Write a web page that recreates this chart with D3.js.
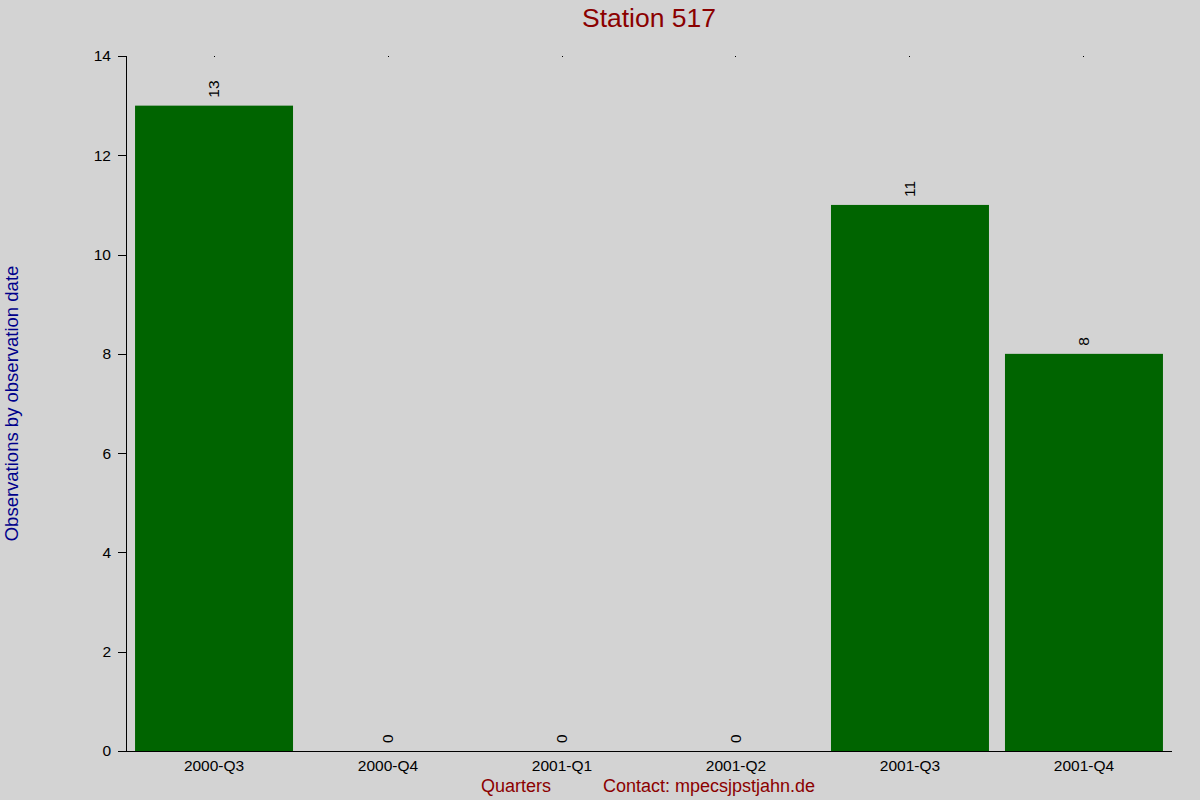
<!DOCTYPE html>
<html>
<head>
  <title>Station 517</title>
  <script src="https://cdn.jsdelivr.net/npm/d3@7"></script>
  <style>
    body { margin: 0; background: #d3d3d3; }
    svg { display: block; font-family: "Liberation Sans", Arial, sans-serif; }
  </style>
</head>
<body>
  <svg width="1200" height="800" id="mainsvg"></svg>
  <script>
    // data
    const quarters = ['2000-Q3', '2000-Q4', '2001-Q1', '2001-Q2', '2001-Q3', '2001-Q4'];
    const counts = [13, 0, 0, 0, 11, 8];
    const yTicks = [0, 2, 4, 6, 8, 10, 12, 14];

    const svg = d3.select('#mainsvg');
    const margin = { top: 56, right: 28, bottom: 49, left: 126 };
    const width = +svg.attr('width');
    const height = +svg.attr('height');
    const fontFam = 'Liberation Sans, Arial, sans-serif';

    svg.append('rect').attr('width', width).attr('height', height).attr('fill', '#d3d3d3');

    const data = quarters.map((q, i) => ({ quarter: q, count: counts[i] }));

    const xScale = d3.scaleBand()
      .domain(quarters)
      .range([margin.left, width - margin.right])
      .paddingInner(0.092)
      .paddingOuter(0.052);

    const yScale = d3.scaleLinear()
      .domain([0, 14])
      .range([height - margin.bottom, margin.top]);

    // bars
    svg.append('g').selectAll('rect')
      .data(data)
      .enter()
      .append('rect')
      .attr('x', d => xScale(d.quarter))
      .attr('y', d => yScale(d.count))
      .attr('width', xScale.bandwidth())
      .attr('height', d => yScale(0) - yScale(d.count))
      .attr('fill', '#006400');

    // value labels, rotated
    svg.append('g').selectAll('text')
      .data(data)
      .enter()
      .append('text')
      .attr('transform', d => `translate(${xScale(d.quarter) + xScale.bandwidth() / 2}, ${yScale(d.count) - 8}) rotate(-90)`)
      .attr('dy', '0.35em')
      .attr('font-size', 15.5)
      .attr('fill', '#000')
      .text(d => d.count);

    // y axis
    const yAxis = d3.axisLeft(yScale).tickValues(yTicks).tickSize(8).tickPadding(7);
    const yAxisGroup = svg.append('g')
      .attr('transform', `translate(${margin.left}, 0)`)
      .attr('shape-rendering', 'crispEdges')
      .call(yAxis);
    yAxisGroup.select('.domain').attr('d', `M0.5,${margin.top}V${height - margin.bottom}`);
    yAxisGroup.selectAll('text').attr('font-size', 15.5).attr('font-family', fontFam);

    // x axis (baseline + labels)
    const xAxis = d3.axisBottom(xScale).tickSize(0).tickPadding(9);
    const xAxisGroup = svg.append('g')
      .attr('transform', `translate(0, ${height - margin.bottom})`)
      .attr('shape-rendering', 'crispEdges')
      .call(xAxis);
    xAxisGroup.select('.domain').attr('d', `M${margin.left - 8},0.5H${width - margin.right}`);
    xAxisGroup.selectAll('text').attr('font-size', 15.5).attr('font-family', fontFam);

    // tiny tick dots along the top
    svg.append('g').attr('shape-rendering', 'crispEdges').selectAll('rect')
      .data(quarters)
      .enter()
      .append('rect')
      .attr('x', d => Math.floor(xScale(d) + xScale.bandwidth() / 2))
      .attr('y', margin.top)
      .attr('width', 1)
      .attr('height', 1)
      .attr('fill', '#000');

    // title
    svg.append('text')
      .attr('x', 649).attr('y', 27)
      .attr('text-anchor', 'middle')
      .attr('font-size', 26.5)
      .attr('fill', '#8b0000')
      .text('Station 517');

    // y label
    svg.append('text')
      .attr('transform', `translate(18, ${(margin.top + height - margin.bottom) / 2}) rotate(-90)`)
      .attr('text-anchor', 'middle')
      .attr('font-size', 18.5)
      .attr('fill', '#00008b')
      .text('Observations by observation date');

    // bottom labels
    svg.append('text')
      .attr('x', 481).attr('y', 792)
      .attr('font-size', 18)
      .attr('fill', '#8b0000')
      .text('Quarters');

    svg.append('text')
      .attr('x', 603).attr('y', 792)
      .attr('font-size', 18)
      .attr('fill', '#8b0000')
      .text('Contact: mpecsjpstjahn.de');
  </script>
</body>
</html>
